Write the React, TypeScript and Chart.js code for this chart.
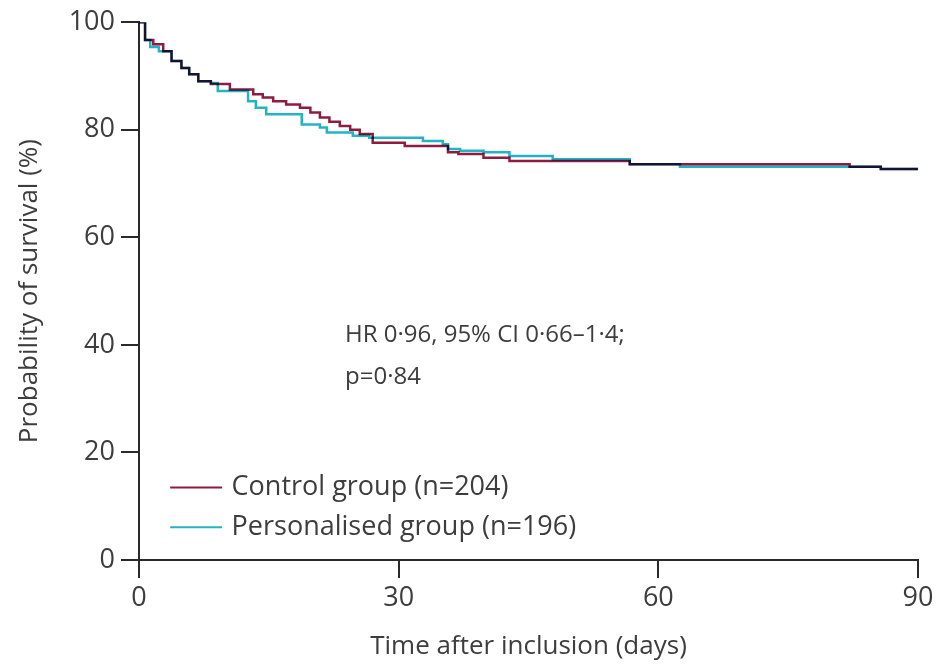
import React, { useEffect, useRef } from "react";
import { Chart, registerables } from "chart.js";

Chart.register(...registerables);

const controlDays = [0, 0.7, 1.65, 2.8, 3.76, 4.9, 5.8, 6.85, 8.3, 10.5, 13.2, 14.3, 15.5, 17.0, 18.6, 19.8, 20.9, 22.0, 23.2, 24.4, 25.5, 27.0, 30.7, 35.7, 36.9, 39.8, 42.8, 56.7, 82.1, 85.7, 90];
const controlSurvival = [100, 96.7, 95.9, 94.6, 92.8, 91.5, 90.3, 89.0, 88.5, 87.5, 86.6, 86.0, 85.3, 84.7, 84.1, 83.2, 82.3, 81.5, 80.7, 80.0, 79.2, 77.6, 77.0, 75.8, 75.5, 74.8, 74.2, 73.6, 73.1, 72.7, 72.7];

const personalisedDays = [0, 0.7, 1.3, 2.3, 3.76, 4.9, 5.8, 6.85, 8.3, 9.1, 12.6, 13.5, 14.7, 18.8, 20.9, 21.7, 24.7, 26.6, 32.8, 35.1, 35.7, 37.1, 39.8, 42.8, 47.8, 56.7, 62.5, 85.7, 90];
const personalisedSurvival = [100, 96.7, 95.4, 94.6, 92.8, 91.5, 90.3, 89.0, 88.7, 87.2, 85.3, 84.1, 82.9, 81.0, 80.4, 79.5, 78.9, 78.5, 77.9, 77.3, 76.4, 76.1, 75.8, 75.1, 74.5, 73.6, 73.1, 72.7, 72.7];

const xTicks = [0, 30, 60, 90];
const yTicks = [0, 20, 40, 60, 80, 100];

const seriesLabels = ["Control group (n=204)", "Personalised group (n=196)"];
const seriesColors = ["#8e1c40", "#22b4c4"];
const annotationLines = ["HR 0·96, 95% CI 0·66–1·4;", "p=0·84"];

const xTitle = "Time after inclusion (days)";
const yTitle = "Probability of survival (%)";

const FONT = "'Open Sans', sans-serif";
const TEXT = "#3d3d3d";
const AXIS = "#2a2a2a";

const multiplyPlugin = {
  id: "multiplyLines",
  beforeDatasetsDraw(chart: any) {
    chart.ctx.save();
    chart.ctx.globalCompositeOperation = "multiply";
  },
  afterDatasetsDraw(chart: any) {
    chart.ctx.restore();
  },
};

const overlayPlugin = {
  id: "overlay",
  afterDraw(chart: any) {
    const { ctx } = chart;
    const xs = chart.scales.x;
    const ys = chart.scales.y;
    ctx.save();
    // legend
    const rows = [13.5, 6.1];
    rows.forEach((v, i) => {
      const y = ys.getPixelForValue(v);
      ctx.strokeStyle = seriesColors[i];
      ctx.lineWidth = 2;
      ctx.beginPath();
      ctx.moveTo(xs.getPixelForValue(3.6), y);
      ctx.lineTo(xs.getPixelForValue(9.6), y);
      ctx.stroke();
      ctx.fillStyle = TEXT;
      ctx.font = `27px ${FONT}`;
      ctx.textBaseline = "middle";
      ctx.textAlign = "left";
      ctx.fillText(seriesLabels[i], xs.getPixelForValue(10.7), y);
    });
    // annotation
    ctx.font = `24px ${FONT}`;
    ctx.textBaseline = "alphabetic";
    ctx.fillStyle = TEXT;
    const ax = xs.getPixelForValue(23.8);
    ctx.fillText(annotationLines[0], ax, ys.getPixelForValue(40.6));
    ctx.fillText(annotationLines[1], ax, ys.getPixelForValue(32.8));
    ctx.restore();
  },
};

export default function App() {
  const ref = useRef<HTMLCanvasElement>(null);

  useEffect(() => {
    if (!ref.current) return;
    const toPoints = (xs: number[], ys: number[]) => xs.map((x, i) => ({ x, y: ys[i] }));
    const chart = new Chart(ref.current, {
      type: "line",
      data: {
        datasets: [
          {
            label: seriesLabels[0],
            data: toPoints(controlDays, controlSurvival),
            borderColor: seriesColors[0],
            borderWidth: 2.5,
            pointRadius: 0,
            stepped: "before",
            fill: false,
          },
          {
            label: seriesLabels[1],
            data: toPoints(personalisedDays, personalisedSurvival),
            borderColor: seriesColors[1],
            borderWidth: 2.5,
            pointRadius: 0,
            stepped: "before",
            fill: false,
          },
        ],
      },
      options: {
        responsive: false,
        animation: false,
        layout: { padding: { top: 21, right: 23, left: 0, bottom: 0 } },
        plugins: { legend: { display: false }, tooltip: { enabled: false } },
        scales: {
          x: {
            type: "linear",
            min: 0,
            max: 90,
            afterFit: (s: any) => { s.height = 108; },
            afterBuildTicks: (s: any) => { s.ticks = xTicks.map((v) => ({ value: v })); },
            ticks: { color: TEXT, font: { family: FONT, size: 27 }, padding: 4, maxRotation: 0 },
            grid: { drawOnChartArea: false, drawTicks: true, tickLength: 18, color: AXIS, lineWidth: 2 },
            border: { display: true, color: AXIS, width: 2 },
            title: { display: true, text: xTitle, color: TEXT, font: { family: FONT, size: 26 }, padding: { top: 0, bottom: 6 } },
          },
          y: {
            type: "linear",
            min: 0,
            max: 100,
            afterFit: (s: any) => { s.width = 139; },
            afterBuildTicks: (s: any) => { s.ticks = yTicks.map((v) => ({ value: v })); },
            ticks: { color: TEXT, font: { family: FONT, size: 27 }, padding: 6 },
            grid: { drawOnChartArea: false, drawTicks: true, tickLength: 18, color: AXIS, lineWidth: 2 },
            border: { display: true, color: AXIS, width: 2 },
            title: { display: true, text: yTitle, color: TEXT, font: { family: FONT, size: 26 }, padding: { top: 14, bottom: 0 } },
          },
        },
      },
      plugins: [multiplyPlugin, overlayPlugin],
    } as any);
    return () => chart.destroy();
  }, []);

  return (
    <div style={{ position: "absolute", left: 0, top: 0, width: 941, height: 668, background: "#fff" }}>
      <canvas ref={ref} width={941} height={668} style={{ display: "block" }} />
    </div>
  );
}
